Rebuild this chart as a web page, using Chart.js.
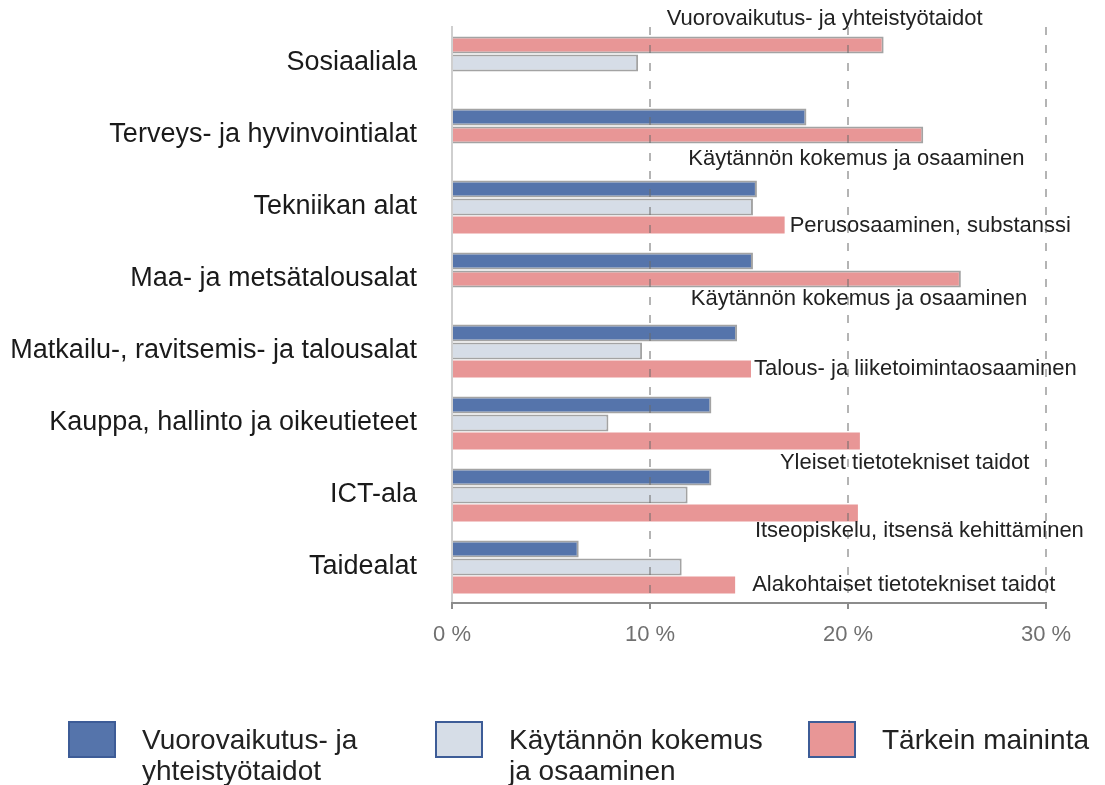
<!DOCTYPE html>
<html>
<head>
<meta charset="utf-8">
<script src="https://cdn.jsdelivr.net/npm/chart.js@4"></script>
<style>
  html, body { margin: 0; padding: 0; background: #ffffff; }
  #wrap { position: relative; width: 1105px; height: 785px; overflow: hidden; }
  #c { position: absolute; left: 0; top: 0; }
  #legend { position: absolute; left: 0; top: 0; width: 1105px; height: 785px; pointer-events: none;
            font-family: "Liberation Sans", Arial, sans-serif; font-size: 28px; color: #222; }
  .lg-item { position: absolute; top: 721px; display: flex; align-items: flex-start; }
  .lg-box { width: 44px; height: 33px; border: 2px solid #3d5c97; flex: none; }
  .lg-txt { margin-left: 26px; margin-top: 3px; line-height: 31px; }
</style>
</head>
<body>
<div id="wrap">
  <canvas id="c" width="1105" height="785"></canvas>
  <div id="legend"></div>
</div>
<script>
// ---------------- DATA ----------------
const categories = [
  'Sosiaaliala',
  'Terveys- ja hyvinvointialat',
  'Tekniikan alat',
  'Maa- ja metsätalousalat',
  'Matkailu-, ravitsemis- ja talousalat',
  'Kauppa, hallinto ja oikeutieteet',
  'ICT-ala',
  'Taidealat'
];
const seriesNames = [
  'Vuorovaikutus- ja yhteistyötaidot',
  'Käytännön kokemus ja osaaminen',
  'Tärkein maininta'
];
const vuorovaikutus = [null, 17.9, 15.4, 15.2, 14.4, 13.1, 13.1, 6.4];
const kaytannon     = [9.4, null, 15.2, null, 9.6, 7.9, 11.9, 11.6];
const tarkein       = [21.8, 23.8, 16.8, 25.7, 15.1, 20.6, 20.5, 14.3];
const tarkeinAihe = [
  'Vuorovaikutus- ja yhteistyötaidot',
  'Käytännön kokemus ja osaaminen',
  'Perusosaaminen, substanssi',
  'Käytännön kokemus ja osaaminen',
  'Talous- ja liiketoimintaosaaminen',
  'Yleiset tietotekniset taidot',
  'Itseopiskelu, itsensä kehittäminen',
  'Alakohtaiset tietotekniset taidot'
];
const xTicks = [0, 10, 20, 30];

// ---------------- STYLE / LAYOUT ----------------
const FONT = '"Liberation Sans", Arial, sans-serif';
const COLORS = {
  blue: '#5574ab', grey: '#d6dde7', red: '#e89696',
  barBorder: '#a3a3a3', legendBorder: '#3d5c97'
};
// where each "top mention" text sits relative to its bar end
const noteLayout = [
  { dx: -217, dy: -26 },
  { dx: -235, dy: 24 },
  { dx: 5, dy: 1 },
  { dx: -270, dy: 20 },
  { dx: 3, dy: 0 },
  { dx: -80, dy: 22 },
  { dx: -103, dy: 18 },
  { dx: 17, dy: 0 }
];
const legendLayout = [
  { left: 68, width: 232 },
  { left: 435, width: 270 },
  { left: 808, width: 300 }
];
const Y_MIN = -0.5;
const Y_MAX = categories.length - 0.5;

// ---------------- BUILD ----------------
const toPoints = vals => vals.map((v, i) => ({ x: v, y: i })).filter(p => p.x !== null);
// the top mention takes the slot of the series it names, otherwise its own slot
const slotOf = i => {
  const k = seriesNames.indexOf(tarkeinAihe[i]);
  return (k === 0 || k === 1) ? k : 2;
};
const redIn = slot => tarkein.map((v, i) => slotOf(i) === slot ? v : null);

const datasets = [
  { label: seriesNames[0], data: toPoints(vuorovaikutus), stack: 's0',
    backgroundColor: COLORS.blue, borderColor: COLORS.barBorder, borderWidth: 2, inLegend: true },
  { label: seriesNames[1], data: toPoints(kaytannon), stack: 's1',
    backgroundColor: COLORS.grey, borderColor: COLORS.barBorder, borderWidth: 2, inLegend: true },
  { label: seriesNames[2], data: toPoints(redIn(2)), stack: 's2',
    backgroundColor: COLORS.red, borderColor: COLORS.red, borderWidth: 0, inLegend: true, note: true },
  { label: seriesNames[2], data: toPoints(redIn(0)), stack: 's0',
    backgroundColor: COLORS.red, borderColor: COLORS.barBorder, borderWidth: 2, inLegend: false, note: true },
  { label: seriesNames[2], data: toPoints(redIn(1)), stack: 's1',
    backgroundColor: COLORS.red, borderColor: COLORS.barBorder, borderWidth: 2, inLegend: false, note: true }
];

const notePlugin = {
  id: 'topMentionNotes',
  afterDatasetsDraw(chart) {
    const ctx = chart.ctx;
    ctx.save();
    ctx.font = '22px ' + FONT;
    ctx.fillStyle = '#222222';
    ctx.textBaseline = 'middle';
    ctx.textAlign = 'left';
    chart.data.datasets.forEach((ds, di) => {
      if (!ds.note) return;
      const meta = chart.getDatasetMeta(di);
      meta.data.forEach((el, j) => {
        const ci = ds.data[j].y;
        const lay = noteLayout[ci];
        ctx.fillText(tarkeinAihe[ci], el.x + lay.dx, el.y + lay.dy);
      });
    });
    ctx.restore();
  }
};

Chart.defaults.font.family = FONT;

const chart = new Chart(document.getElementById('c'), {
  type: 'bar',
  data: { datasets },
  options: {
    indexAxis: 'y',
    responsive: false,
    animation: false,
    categoryPercentage: 0.75,
    barPercentage: 0.94,
    layout: { padding: { left: 0, right: 59, top: 27, bottom: 132 } },
    plugins: { legend: { display: false }, tooltip: { enabled: false } },
    scales: {
      x: {
        type: 'linear',
        stacked: true,
        offset: false,
        min: xTicks[0],
        max: xTicks[xTicks.length - 1],
        afterBuildTicks: s => { s.ticks = xTicks.map(v => ({ value: v })); },
        afterFit: s => { s.height = 50; },
        ticks: {
          callback: v => v + ' %',
          font: { size: 22 },
          color: '#707070',
          padding: 13,
          maxRotation: 0
        },
        grid: {
          z: 1,
          offset: false,
          color: c => (c.tick && c.tick.value === 0) ? 'rgba(0,0,0,0)' : 'rgba(105,105,105,0.5)',
          lineWidth: 2,
          drawTicks: true,
          tickLength: 6,
          tickColor: '#8c8c8c',
          tickWidth: 2
        },
        border: { display: true, z: 1, color: '#8c8c8c', width: 2, dash: [8, 10] }
      },
      y: {
        type: 'linear',
        reverse: true,
        offset: false,
        bounds: 'data',
        grace: 0,
        min: Y_MIN,
        max: Y_MAX,
        afterBuildTicks: s => {
          s.ticks = categories.map((_, i) => ({ value: i }));
          s.min = Y_MIN;
          s.max = Y_MAX;
        },
        afterFit: s => { s.width = 452; s.paddingTop = 0; s.paddingBottom = 0; },
        ticks: {
          autoSkip: false,
          callback: v => categories[v],
          font: { size: 27 },
          color: '#1a1a1a',
          padding: 27
        },
        grid: { display: false, offset: false },
        border: { display: true, color: '#cfcfcf', width: 2 }
      }
    }
  },
  plugins: [notePlugin]
});

// HTML legend built from the chart's own datasets
const legendEl = document.getElementById('legend');
chart.data.datasets.filter(d => d.inLegend).forEach((d, k) => {
  const item = document.createElement('div');
  item.className = 'lg-item';
  item.style.left = legendLayout[k].left + 'px';
  const box = document.createElement('div');
  box.className = 'lg-box';
  box.style.background = d.backgroundColor;
  box.style.borderColor = COLORS.legendBorder;
  const txt = document.createElement('div');
  txt.className = 'lg-txt';
  txt.style.width = legendLayout[k].width + 'px';
  txt.textContent = d.label;
  item.appendChild(box);
  item.appendChild(txt);
  legendEl.appendChild(item);
});
</script>
</body>
</html>
